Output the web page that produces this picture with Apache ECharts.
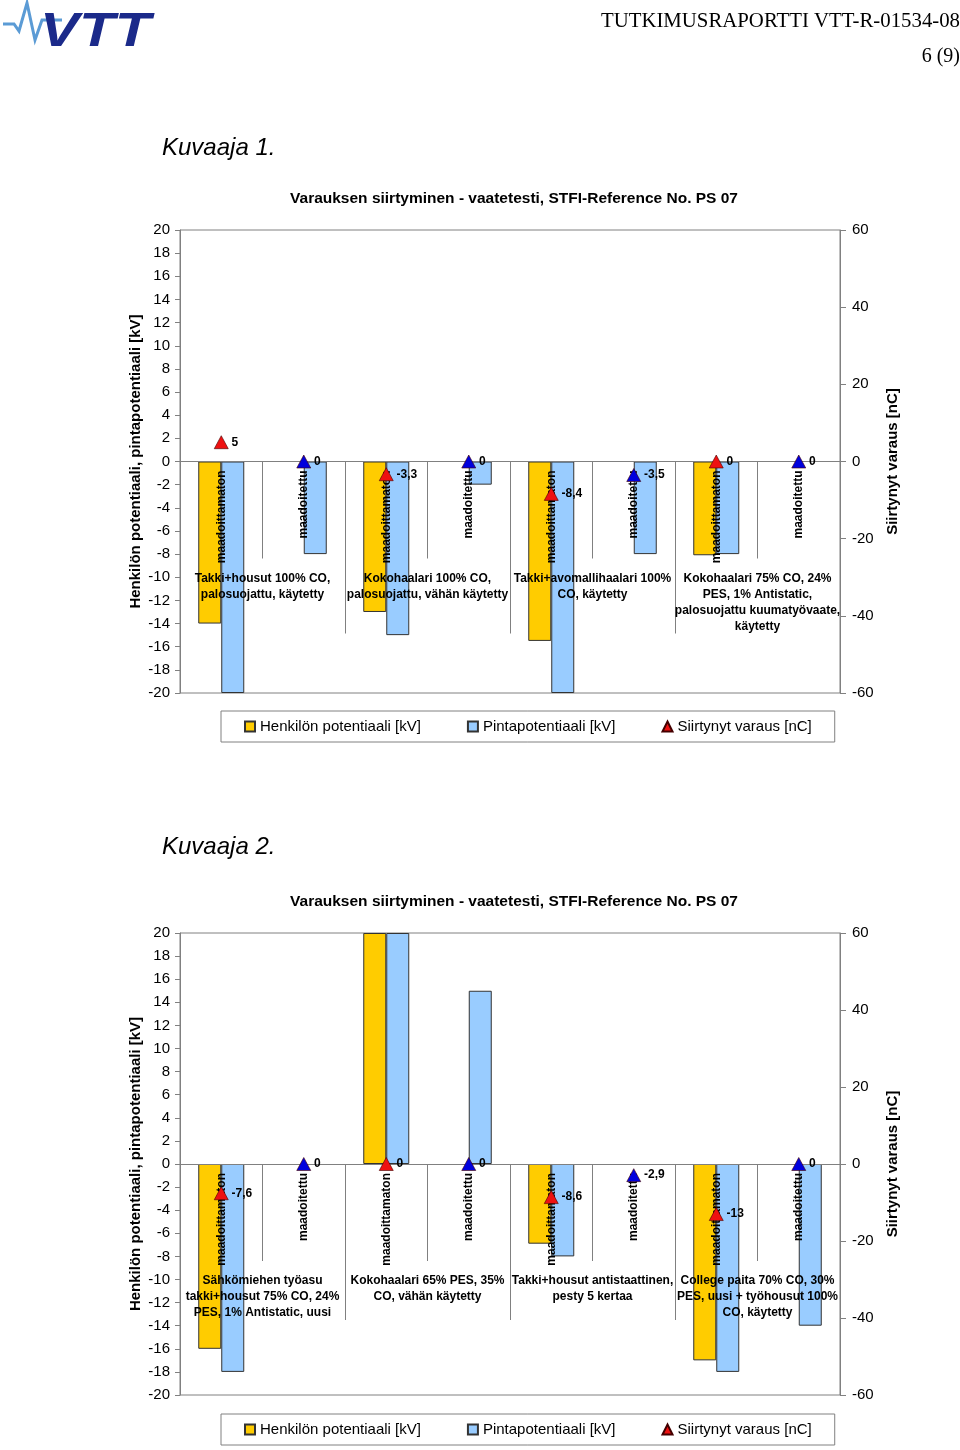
<!DOCTYPE html>
<html>
<head>
<meta charset="utf-8">
<script src="https://cdn.jsdelivr.net/npm/echarts@6/dist/echarts.min.js"></script>
<style>
html,body{margin:0;padding:0;background:#fff;}
#c{width:960px;height:1450px;}
</style>
</head>
<body>
<div id="c"></div>
<script>
// ---- data ----
const categories = ['maadoittamaton','maadoitettu','maadoittamaton','maadoitettu','maadoittamaton','maadoitettu','maadoittamaton','maadoitettu'];

const groups1 = [
  'Takki+housut 100% CO,\npalosuojattu, käytetty',
  'Kokohaalari 100% CO,\npalosuojattu, vähän käytetty',
  'Takki+avomallihaalari 100%\nCO, käytetty',
  'Kokohaalari 75% CO, 24%\nPES, 1% Antistatic,\npalosuojattu kuumatyövaate,\nkäytetty'
];
const henkilo1 = [-14, null, -13, null, -15.5, null, -8.1, null];
const pinta1   = [-20, -8, -15, -2, -20, -8, -8, null];
const varaus1  = [5, 0, -3.3, 0, -8.4, -3.5, 0, 0];

const groups2 = [
  'Sähkömiehen työasu\ntakki+housut 75% CO, 24%\nPES, 1% Antistatic, uusi',
  'Kokohaalari 65% PES, 35%\nCO, vähän käytetty',
  'Takki+housut antistaattinen,\npesty 5 kertaa',
  'College paita 70% CO, 30%\nPES, uusi + työhousut 100%\nCO, käytetty'
];
const henkilo2 = [-16, null, 20, null, -6.9, null, -17, null];
const pinta2   = [-18, null, 20, 15, -8, null, -18, -14];
const varaus2  = [-7.6, 0, 0, 0, -8.6, -2.9, -13, 0];

const leftTicks  = {min: -20, max: 20, interval: 2};
const rightTicks = {min: -60, max: 60, interval: 20};

const chartTitle = 'Varauksen siirtyminen - vaatetesti, STFI-Reference No. PS 07';
const nameH = 'Henkilön potentiaali [kV]';
const nameP = 'Pintapotentiaali [kV]';
const nameV = 'Siirtynyt varaus [nC]';
const leftName = 'Henkilön potentiaali, pintapotentiaali [kV]';

// ---- styles ----
const FONT = '"Liberation Sans", Arial, sans-serif';
const GRAY = '#808080';
const YEL = '#FFCC00', BLU = '#99CCFF', RED = '#EE1111', DBLUE = '#0000DD';

function commaFmt(v){ return String(v).replace('.', ','); }

function makeChart(gi, top, height, groups, henk, pint, vara, longTick){
  const xBase = gi*2, yBase = gi*2;
  // the category axes sit on the zero line, which is the middle of the symmetric value range
  const zeroOffset = -height/2;
  const grid = {left:180, top:top, width:660, height:height, show:true, borderColor:GRAY, borderWidth:1,
                containLabel:false, outerBoundsMode:'none'};
  const xAxes = [
    {gridIndex:gi, type:'category', data:categories, position:'bottom', offset:zeroOffset, z:3,
     axisLine:{show:true, onZero:false, lineStyle:{color:GRAY, width:1}},
     axisTick:{show:true, interval:0, length:97, lineStyle:{color:GRAY}},
     axisLabel:{interval:0, rotate:90, margin:9, fontFamily:FONT, fontSize:12, fontWeight:'bold', color:'#000'},
     splitLine:{show:false}},
    {gridIndex:gi, type:'category', data:groups, position:'bottom', offset:zeroOffset, z:3,
     axisLine:{show:false, onZero:false},
     axisTick:{show:true, interval:0, length:longTick, lineStyle:{color:GRAY}},
     axisLabel:{interval:0, margin:109, fontFamily:FONT, fontSize:12, fontWeight:'bold', color:'#000', lineHeight:16, align:'center'},
     splitLine:{show:false}}
  ];
  const yAxes = [
    {gridIndex:gi, type:'value', position:'left', min:leftTicks.min, max:leftTicks.max, interval:leftTicks.interval,
     name:leftName, nameLocation:'middle', nameGap:37, nameMoveOverlap:false,
     nameTextStyle:{fontFamily:FONT, fontSize:15, fontWeight:'bold', color:'#000'},
     axisLine:{show:true, lineStyle:{color:GRAY}},
     axisTick:{show:true, length:5, lineStyle:{color:GRAY}},
     axisLabel:{margin:10, fontFamily:FONT, fontSize:15, color:'#000'},
     splitLine:{show:false}},
    {gridIndex:gi, type:'value', position:'right', min:rightTicks.min, max:rightTicks.max, interval:rightTicks.interval,
     name:nameV, nameLocation:'middle', nameGap:45, nameMoveOverlap:false,
     nameTextStyle:{fontFamily:FONT, fontSize:15, fontWeight:'bold', color:'#000'},
     axisLine:{show:true, lineStyle:{color:GRAY}},
     axisTick:{show:true, length:6, lineStyle:{color:GRAY}},
     axisLabel:{margin:12, fontFamily:FONT, fontSize:15, color:'#000'},
     splitLine:{show:false}}
  ];
  const series = [
    {name:nameH, type:'bar', xAxisIndex:xBase, yAxisIndex:yBase, data:henk, barWidth:23, barGap:'0%', z:2,
     itemStyle:{color:YEL, borderColor:'#333', borderWidth:1}},
    {name:nameP, type:'bar', xAxisIndex:xBase, yAxisIndex:yBase, data:pint, barWidth:23, barGap:'0%', z:2,
     itemStyle:{color:BLU, borderColor:'#333', borderWidth:1}},
    {name:nameV, type:'scatter', xAxisIndex:xBase, yAxisIndex:yBase+1, symbol:'triangle', symbolSize:[14,13], z:5,
     itemStyle:{color:RED, borderColor:'#400', borderWidth:0.6, opacity:1},
     data: vara.map((v,i)=>({value:v, itemStyle:{color: categories[i]==='maadoittamaton' ? RED : DBLUE}})),
     label:{show:true, position:'right', distance:3, fontFamily:FONT, fontSize:12, fontWeight:'bold', color:'#000',
            formatter:p=>commaFmt(p.value)}}
  ];
  return {grid, xAxes, yAxes, series};
}

const c1 = makeChart(0, 230, 463, groups1, henkilo1, pinta1, varaus1, 172);
const c2 = makeChart(1, 933, 462, groups2, henkilo2, pinta2, varaus2, 156);

function legendAt(top){
  return {top:top, left:221, orient:'horizontal', itemGap:46, itemWidth:10, itemHeight:10,
    padding:[8,23,8,23], borderColor:GRAY, borderWidth:1, selectedMode:false,
    textStyle:{fontFamily:FONT, fontSize:15, color:'#000'},
    data:[{name:nameH, icon:'rect'},{name:nameP, icon:'rect'},{name:nameV, icon:'triangle'}]};
}

function txt(x, y, text, font, align, fill){
  return {type:'text', x:x, y:y, z:10, style:{text:text, font:font, fill:fill||'#000',
    textAlign:align, align:align, textVerticalAlign:'middle', verticalAlign:'middle'}};
}

const option = {
  animation:false,
  backgroundColor:'#fff',
  grid:[c1.grid, c2.grid],
  xAxis:[...c1.xAxes, ...c2.xAxes],
  yAxis:[...c1.yAxes, ...c2.yAxes],
  series:[...c1.series, ...c2.series],
  legend:[legendAt(711), legendAt(1414)],
  graphic:[
    {type:'polyline', z:10, shape:{points:[[3,24],[14,24],[19,31],[27,3],[35,40],[42,20],[62,20]]},
     style:{stroke:'#5b9bd5', lineWidth:3, fill:null}},
    {type:'text', x:40, y:33, z:10, scaleX:1.22, style:{text:'VTT', font:'italic bold 48px "Liberation Sans", Arial, sans-serif',
      fill:'#1b2a8a', textVerticalAlign:'middle', verticalAlign:'middle'}},
    txt(960, 22, 'TUTKIMUSRAPORTTI VTT-R-01534-08', '20.8px "Liberation Serif", "Times New Roman", serif', 'right'),
    txt(960, 57, '6 (9)', '20px "Liberation Serif", "Times New Roman", serif', 'right'),
    txt(162, 148, 'Kuvaaja 1.', 'italic 24px ' + FONT, 'left'),
    txt(162, 847, 'Kuvaaja 2.', 'italic 24px ' + FONT, 'left'),
    txt(514, 199, chartTitle, 'bold 15.5px ' + FONT, 'center'),
    txt(514, 902, chartTitle, 'bold 15.5px ' + FONT, 'center')
  ]
};

const chart = echarts.init(document.getElementById('c'), null, {renderer:'canvas', width:960, height:1450});
chart.setOption(option);
</script>
</body>
</html>
